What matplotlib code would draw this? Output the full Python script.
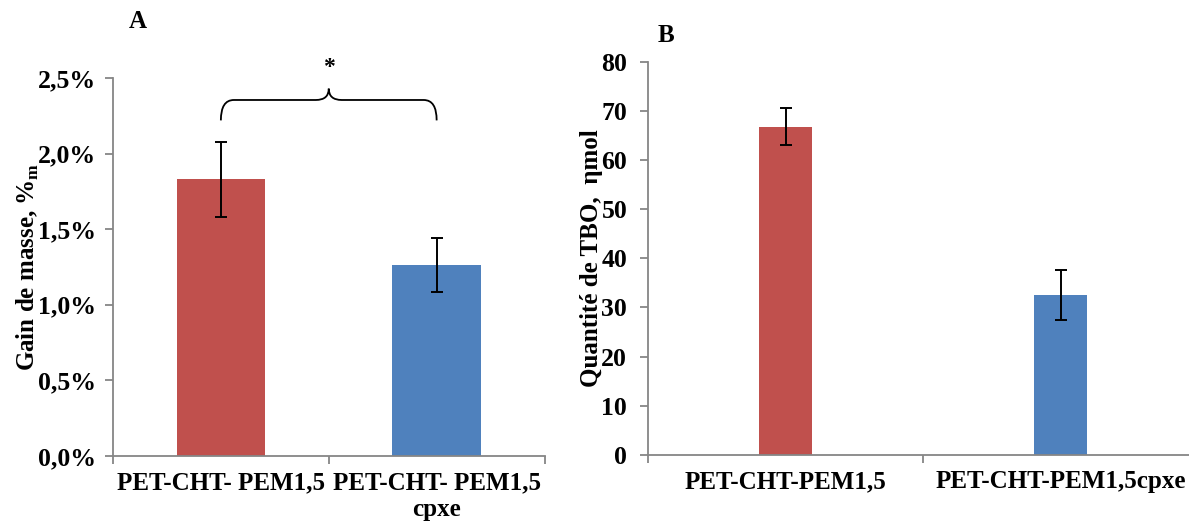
import matplotlib.pyplot as plt
import numpy as np
from matplotlib.path import Path
from matplotlib.patches import PathPatch
from matplotlib.ticker import FuncFormatter

# panel A : mass gain
labels_a = ["PET-CHT- PEM1,5", "PET-CHT- PEM1,5\ncpxe"]
gain = [1.83, 1.265]
gain_err = [0.25, 0.18]

# panel B : TBO quantity
labels_b = ["PET-CHT-PEM1,5", "PET-CHT-PEM1,5cpxe"]
tbo = [66.8, 32.5]
tbo_err = [3.8, 5.1]

bar_colors = ["#C0504D", "#4F81BD"]
spine_col = "#868686"

plt.rcParams['font.family'] = ['Liberation Serif', 'DejaVu Serif']
plt.rcParams['font.weight'] = 'bold'
plt.rcParams['mathtext.fontset'] = 'custom'
plt.rcParams['mathtext.rm'] = 'Liberation Serif:bold'

fig = plt.figure(figsize=(11.89, 5.24), dpi=100)
ax_a = fig.add_axes([0.095, 0.130, 0.363, 0.721])
ax_b = fig.add_axes([0.545, 0.132, 0.4626, 0.750])


def style_axes(ax, ypad):
    for s in ['top', 'right']:
        ax.spines[s].set_visible(False)
    for s in ['left', 'bottom']:
        ax.spines[s].set_color(spine_col)
        ax.spines[s].set_linewidth(1.3)
    ax.tick_params(axis='y', which='major', direction='out', length=6,
                   color=spine_col, width=1.3, labelsize=18.5, pad=ypad)
    ax.tick_params(axis='x', which='major', direction='out', length=6,
                   color=spine_col, width=1.3, labelbottom=False)
    ax.tick_params(axis='x', which='minor', length=0, labelsize=18, pad=11)
    ax.set_xlim(-0.5, 1.5)
    ax.set_xticks([-0.5, 0.5, 1.5])
    for lab in ax.get_yticklabels():
        lab.set_fontweight('bold')


x = np.arange(2)

# --- A ---
ax_a.bar(x, gain, width=0.41, color=bar_colors, zorder=2)
ax_a.errorbar(x, gain, yerr=gain_err, fmt='none', ecolor='black',
              elinewidth=1.4, capsize=4, capthick=1.4, zorder=3)
style_axes(ax_a, 6)
ax_a.set_ylim(0, 2.5)
ax_a.set_yticks(np.arange(0, 2.51, 0.5))
ax_a.yaxis.set_major_formatter(FuncFormatter(lambda v, p: f"{v:.1f}%".replace('.', ',')))
ax_a.set_xticks(x, minor=True)
ax_a.set_xticklabels(labels_a, minor=True, fontweight='bold', linespacing=1.2)
ax_a.set_ylabel(r"Gain de masse, %$_\mathregular{m}$", fontsize=18, fontweight='bold', labelpad=-2)

# bracket over the two bars
x0, x1 = 0.0, 1.0
yl, ym, yt = 2.22, 2.355, 2.43
xc = (x0 + x1) / 2
d = 0.03
verts = [(x0, yl), (x0, ym), (x0 + d * 2, ym),
         (xc - d * 2, ym),
         (xc, ym), (xc, yt),
         (xc, ym), (xc + d * 2, ym),
         (x1 - d * 2, ym),
         (x1, ym), (x1, yl)]
codes = [Path.MOVETO, Path.CURVE3, Path.CURVE3,
         Path.LINETO,
         Path.CURVE3, Path.CURVE3,
         Path.CURVE3, Path.CURVE3,
         Path.LINETO,
         Path.CURVE3, Path.CURVE3]
ax_a.add_patch(PathPatch(Path(verts, codes), fill=False, lw=1.3,
                         edgecolor='black', clip_on=False))
ax_a.text(xc, 2.50, "*", ha='center', va='bottom', fontsize=17, fontweight='bold')

fig.text(138 / 1189, 1 - 22 / 524, "A", fontsize=18, fontweight='bold', ha='center', va='center')

# --- B ---
ax_b.bar(x, tbo, width=0.195, color=bar_colors, zorder=2)
ax_b.errorbar(x, tbo, yerr=tbo_err, fmt='none', ecolor='black',
              elinewidth=1.4, capsize=4, capthick=1.4, zorder=3)
style_axes(ax_b, 9)
ax_b.set_ylim(0, 80)
ax_b.set_yticks(np.arange(0, 81, 10))
ax_b.set_xticks(x, minor=True)
ax_b.set_xticklabels(labels_b, minor=True, fontweight='bold')
ax_b.set_ylabel("Quantité de TBO,  ηmol", fontsize=18, fontweight='bold', labelpad=-1)

fig.text(666 / 1189, 1 - 36 / 524, "B", fontsize=18, fontweight='bold', ha='center', va='center')

plt.savefig("out.png", dpi=100)
